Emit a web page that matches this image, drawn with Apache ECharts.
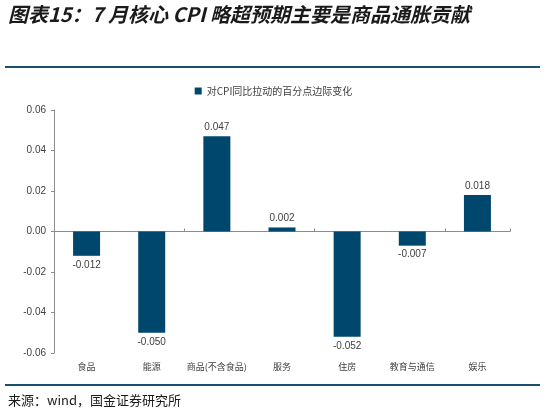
<!DOCTYPE html>
<html>
<head>
    <meta charset="utf-8">
    <title>CPI contribution</title>
    <script src="https://cdn.jsdelivr.net/npm/echarts@6/dist/echarts.min.js"></script>
    <style>
        html, body { margin: 0; padding: 0; background: #ffffff; }
        #chart { width: 547px; height: 417px; }
    </style>
</head>
<body>
<div id="chart"></div>
<script>
    // categories and values
    const categories = ['食品', '能源', '商品(不含食品)', '服务', '住房', '教育与通信', '娱乐'];
    const seriesName = '对CPI同比拉动的百分点边际变化';
    const values = [-0.012, -0.050, 0.047, 0.002, -0.052, -0.007, 0.018];
    const yTicks = { min: -0.06, max: 0.06, interval: 0.02 };

    const barColor = '#00476e';
    const lineColor = '#1b4f72';
    const cjk = '"Noto Sans CJK SC", sans-serif';

    const chart = echarts.init(document.getElementById('chart'));
    chart.setOption({
        animation: false,
        textStyle: { fontFamily: 'Arial, "Liberation Sans", sans-serif' },
        grid: { left: 54, right: 37, top: 110, bottom: 64, containLabel: false },
        legend: {
            data: [seriesName],
            top: 81,
            left: 'center',
            itemWidth: 7,
            itemHeight: 7,
            itemGap: 4,
            icon: 'rect',
            textStyle: { fontSize: 10, color: '#404040', fontFamily: cjk }
        },
        xAxis: [{
            // zero line with ticks between categories
            type: 'category',
            data: categories,
            axisLine: { onZero: true, lineStyle: { color: '#8c8c8c', width: 1 } },
            axisTick: { show: true, inside: true, length: 3, lineStyle: { color: '#8c8c8c' } },
            axisLabel: { show: false }
        }, {
            // category names below the plot area
            type: 'category',
            data: categories,
            position: 'bottom',
            axisLine: { show: false, onZero: false },
            axisTick: { show: false },
            axisLabel: {
                interval: 0,
                fontSize: 9,
                color: '#404040',
                fontFamily: cjk,
                margin: 9
            }
        }],
        yAxis: {
            type: 'value',
            min: yTicks.min,
            max: yTicks.max,
            interval: yTicks.interval,
            axisLine: { show: true, lineStyle: { color: '#8c8c8c' } },
            axisTick: { show: true, length: 3, lineStyle: { color: '#8c8c8c' } },
            splitLine: { show: false },
            axisLabel: {
                fontSize: 10,
                color: '#404040',
                margin: 8,
                formatter: v => v.toFixed(2)
            }
        },
        series: [{
            name: seriesName,
            type: 'bar',
            xAxisIndex: 0,
            data: values,
            barWidth: 27,
            itemStyle: { color: barColor },
            label: {
                show: true,
                position: 'outside',
                fontSize: 10,
                color: '#404040',
                distance: 4,
                formatter: p => p.value.toFixed(3)
            }
        }],
        graphic: [
            {
                type: 'text', left: 8, top: 4,
                style: {
                    text: '图表15：7 月核心 CPI 略超预期主要是商品通胀贡献',
                    font: 'italic bold 20px "Noto Sans CJK SC", sans-serif',
                    fill: '#1a1a1a'
                }
            },
            {
                type: 'line',
                shape: { x1: 5, y1: 67, x2: 540, y2: 67 },
                style: { stroke: lineColor, lineWidth: 2 }
            },
            {
                type: 'line',
                shape: { x1: 5, y1: 385, x2: 540, y2: 385 },
                style: { stroke: lineColor, lineWidth: 2 }
            },
            {
                type: 'text', left: 8, top: 394,
                style: {
                    text: '来源：wind，国金证券研究所',
                    font: '13px "Noto Sans CJK SC", "DejaVu Sans Mono", monospace',
                    fill: '#1a1a1a'
                }
            }
        ]
    });
</script>
</body>
</html>
